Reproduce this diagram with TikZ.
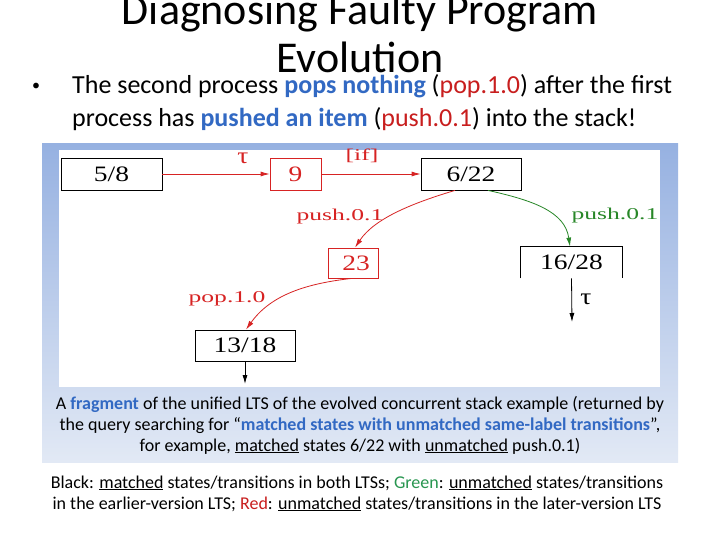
\documentclass[tikz,border=0pt]{standalone}
\usepackage{fontspec}
\setmainfont{Carlito}
\newfontfamily\tms{Liberation Serif}
\usetikzlibrary{arrows.meta}
\definecolor{wred}{RGB}{200,30,30}
\definecolor{dred}{RGB}{215,35,35}
\definecolor{dgreen}{RGB}{40,135,40}
\definecolor{tgreen}{RGB}{40,150,80}
\definecolor{wablue}{RGB}{50,105,195}
\definecolor{ptop}{RGB}{150,177,225}
\definecolor{pbot}{RGB}{226,233,245}
\newcommand\wa[1]{\textbf{\textcolor{wablue}{#1}}}
\newcommand\numtxt[1]{\scalebox{1.25}[1]{\tms\fontsize{22}{22}\selectfont #1}}
\newcommand\lbltxt[1]{\scalebox{1.55}[1]{\tms\fontsize{16.5}{16.5}\selectfont #1}}
\newcommand\tautxt{\scalebox{1.2}[1]{\tms\fontsize{23}{23}\selectfont τ}}
\begin{document}
\begin{tikzpicture}[x=1pt,y=-1pt,
  state/.style={draw=black, line width=0.8pt, fill=white, inner sep=0pt,
    minimum width=100pt, minimum height=31pt},
  rstate/.style={state, draw=dred, text=dred},
  redge/.style={draw=dred, line width=0.8pt, -{Latex[length=9pt,width=5pt]}},
  gedge/.style={draw=dgreen, line width=0.8pt, -{Latex[length=9pt,width=5pt]}},
  bedge/.style={draw=black, line width=0.8pt, -{Latex[length=9pt,width=5pt]}},
  lbl/.style={inner sep=0pt},
  titletxt/.style={inner sep=0pt, anchor=base, font=\fontsize{44}{44}\selectfont},
  bline/.style={inner sep=0pt, anchor=base west, font=\fontsize{26}{26}\selectfont},
  captxt/.style={inner sep=0pt, anchor=base, font=\fontsize{18}{18}\selectfont}
]
\useasboundingbox (0,0) rectangle (720,540);
\fill[white] (0,0) rectangle (720,540);

% title
\node[titletxt] (t1) at (360,25) {Diagnosing Faulty Program};
\node[titletxt] (t2) at (360,73) {Evolution};

% bullet
\node[inner sep=0pt, font=\fontsize{16}{16}\selectfont] (bul) at (36,87) {•};
\node[bline] (b1) at (72,94) {The second process \wa{pops nothing} (\textcolor{wred}{pop.1.0}) after the first};
\node[bline] (b2) at (72,127) {process has \wa{pushed an item} (\textcolor{wred}{push.0.1}) into the stack!};

% panel
\shade[top color=ptop, bottom color=pbot] (42,144) rectangle (678,462);
\fill[white] (59,150) rectangle (660,387);

% states
\node[state, minimum width=101pt, minimum height=32pt] (n58) at (111.5,174) {\numtxt{5/8}};
\node[rstate, minimum width=51pt, minimum height=32pt] (n9) at (295.5,174) {\numtxt{9}};
\node[state, minimum height=32pt] (n622) at (471,174) {\numtxt{6/22}};
\node[rstate, minimum width=50pt, minimum height=30pt] (n23) at (353,263) {\hspace*{6pt}\numtxt{23}};
\node[state, draw=none, minimum width=101pt, minimum height=31pt] (n1628) at (571.5,262.5) {\numtxt{16/28}};
\draw[line width=0.8pt] (n1628.south west) -- (n1628.north west) -- (n1628.north east) -- (n1628.south east);
\node[state, minimum height=31pt] (n1318) at (245,345.5) {\numtxt{13/18}};

\coordinate (e1318) at (245,384);
\coordinate (e1628) at (572,322);

% edges
\draw[redge] (n58.east) -- (n9.west);
\draw[redge] (n9.east) -- (n622.west);
\draw[redge] ([xshift=-16pt]n622.south) .. controls +(-40,12) and +(20,-30) .. ([xshift=2pt]n23.north);
\draw[gedge] ([xshift=17pt]n622.south) .. controls +(45,10) and +(-5,-35) .. ([xshift=-1.5pt]n1628.north);
\draw[redge] ([xshift=-1pt]n23.south) .. controls +(-45,5) and +(25,-35) .. ([xshift=1pt]n1318.north);
\draw[bedge] (n1318.south) -- (e1318);
\draw[bedge] (n1628.south) -- (e1628);

% labels
\node[lbl, text=dred] (lt1) at (243,158) {\tautxt};
\node[lbl, text=dred] (lif) at (362,156) {\lbltxt{[if]}};
\node[lbl, text=dred] (lp1) at (340,217) {\lbltxt{push.0.1}};
\node[lbl, text=dgreen] (lp2) at (615,216) {\lbltxt{push.0.1}};
\node[lbl, text=dred] (lpop) at (227,299) {\lbltxt{pop.1.0}};
\node[lbl] (lt2) at (586,299) {\tautxt};

% caption
\node[captxt] (c1) at (360,409) {A \wa{fragment} of the unified LTS of the evolved concurrent stack example (returned by};
\node[captxt] (c2) at (360,430) {the query searching for “\wa{matched states with unmatched same-label transitions}”,};
\node[captxt] (c3) at (360,451) {for example, \underline{matched} states 6/22 with \underline{unmatched} push.0.1)};

% legend
\node[captxt] (d1) at (357,488) {Black: \underline{matched} states/transitions in both LTSs; \textcolor{tgreen}{Green}: \underline{unmatched} states/transitions};
\node[captxt] (d2) at (357,509) {in the earlier-version LTS; \textcolor{wred}{Red}: \underline{unmatched} states/transitions in the later-version LTS};
\end{tikzpicture}
\end{document}
